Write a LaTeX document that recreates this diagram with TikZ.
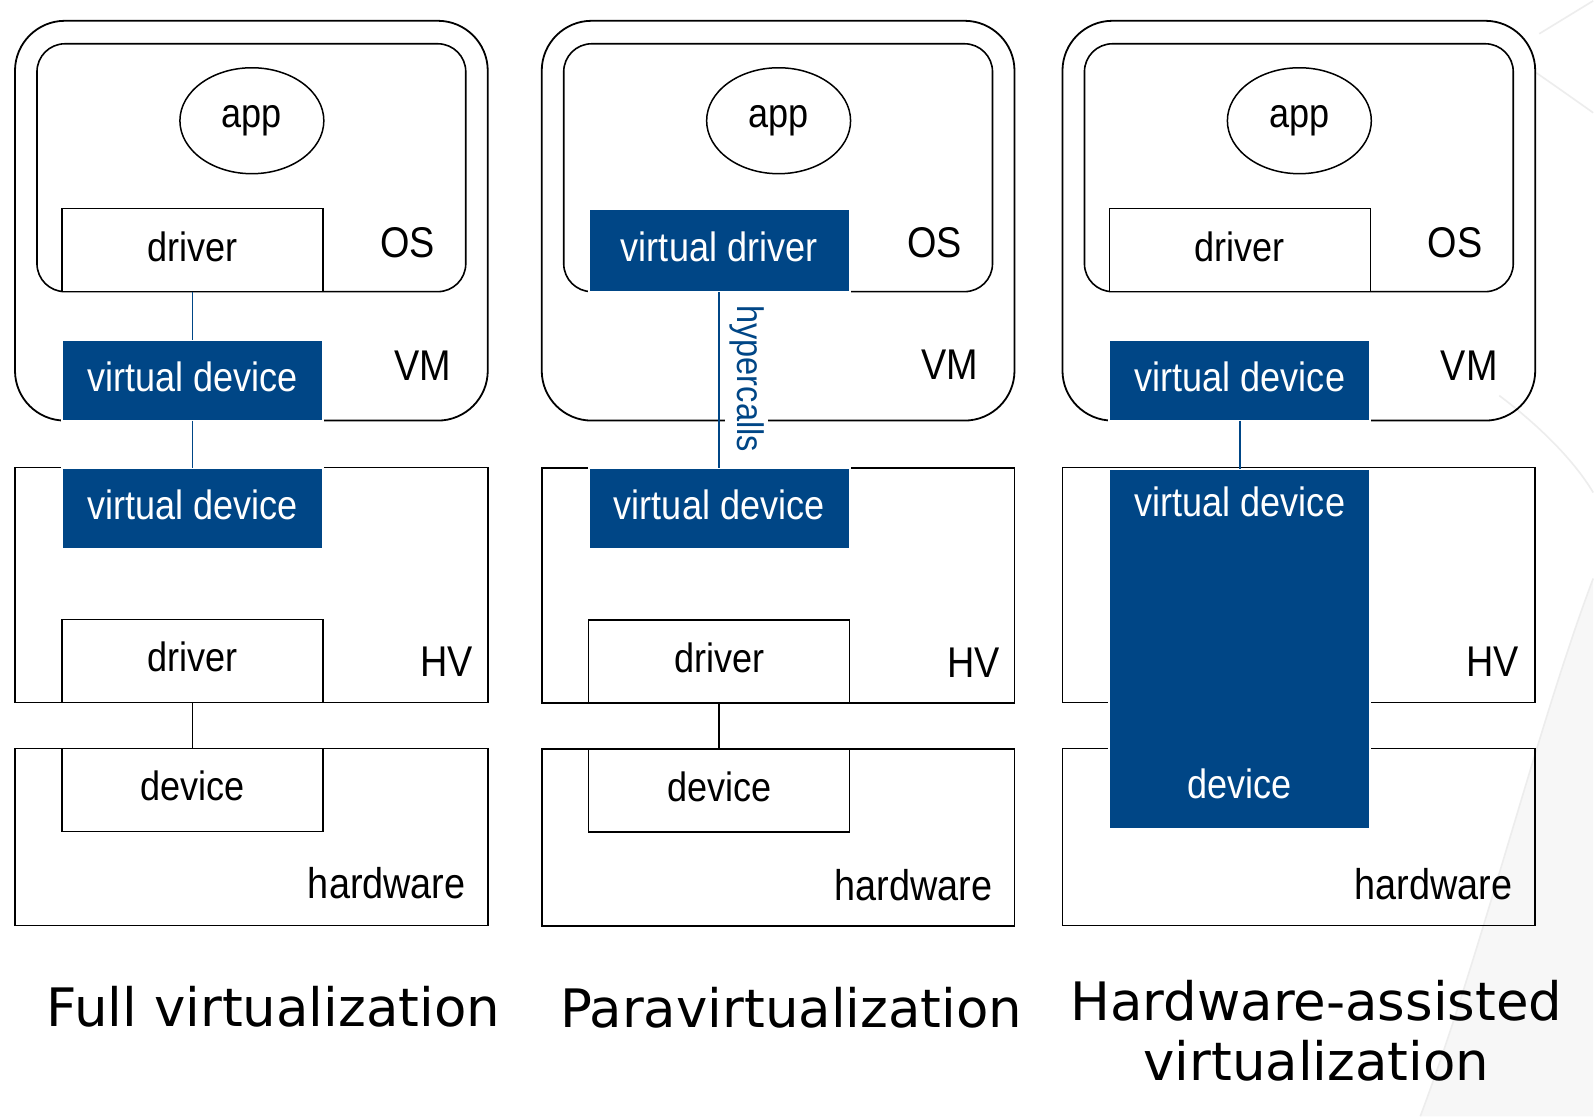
\documentclass[tikz,border=0pt]{standalone}
\usepackage{fontspec}
\setmainfont{Liberation Sans}
\newfontfamily\boxfont[FakeStretch=0.88]{Liberation Sans}
\newfontfamily\titlefont{DejaVu Sans}
\usetikzlibrary{positioning,shapes.geometric}
\definecolor{vblue}{RGB}{0,70,134}

\begin{document}
\begin{tikzpicture}[
  x=0.5pt, y=-0.5pt,
  every node/.style={inner sep=0pt, outer sep=0pt},
  txtfont/.style={font=\boxfont\fontsize{20.5}{24}\selectfont},
  txt/.style={txtfont, text height=16pt, text depth=5pt},
  lay/.style={font=\boxfont\fontsize{21.5}{25}\selectfont},
  vmbox/.style={draw, line width=0.9pt, rounded corners=25pt,
                minimum width=236.5pt, minimum height=200pt},
  osbox/.style={draw, line width=0.8pt, rounded corners=14pt,
                minimum width=214.5pt, minimum height=124pt},
  appnode/.style={ellipse, draw, line width=0.75pt, minimum width=72pt,
                  minimum height=53pt, txtfont},
  drvbox/.style={draw, fill=white, line width=0.75pt, minimum width=130.5pt,
                 minimum height=41.5pt, txt},
  vdevbox/.style={fill=vblue, draw=white, line width=1pt, text=white,
                  minimum width=130.5pt, minimum height=40.5pt, txt},
  layerbox/.style={draw, line width=0.8pt, minimum width=236.5pt},
  vlink/.style={draw=vblue, line width=0.75pt},
  hwlink/.style={draw, line width=0.75pt},
  hyplbl/.style={rotate=-90, fill=white, inner sep=2pt, text=vblue,
                 font=\boxfont\fontsize{18.5}{22}\selectfont},
  captext/.style={font=\titlefont\fontsize{26.5}{30}\selectfont, align=center}
]

%% Page and faint background
\fill[white] (0,0) rectangle (1594,1116);
\fill[black!3] (1421,1116) .. controls (1480,960) and (1540,720) .. (1594,578)
      -- (1594,1116) -- cycle;
\draw[black!7, line width=0.8pt] (1540,33) -- (1594,0);
\draw[black!7, line width=0.8pt] (1537,72) .. controls (1560,88) .. (1594,112);
\draw[black!7, line width=0.8pt] (1500,395) .. controls (1540,425) and (1575,460) .. (1594,492);
\draw[black!7, line width=0.8pt] (1421,1116) .. controls (1480,960) and (1540,720) .. (1594,578);

%% Full virtualization
\node[vmbox]   (vm1)    at (251.5,220)   {};
\node[osbox]   (os1)    at (251.5,167)   {};
\node[appnode] (app1)   at (252,120)     {app};
\node[drvbox]  (gdrv1)  at (192.5,249.5) {driver};
\node[lay]     (oslbl1) at (408,242)     {OS};
\node[vdevbox] (gvdev1) at (192.5,379.5) {virtual device};
\node[lay]     (vmlbl1) at (423,365)     {VM};

\node[layerbox, minimum height=117.5pt] (hv1) at (251.5,584.5) {};
\node[vdevbox] (hvdev1) at (192.5,507.5) {virtual device};
\node[drvbox]  (hdrv1)  at (192.5,660.5) {driver};
\node[lay]     (hvlbl1) at (447,661)     {HV};

\node[layerbox, minimum height=88.5pt] (hw1) at (251.5,836.5) {};
\node[drvbox]  (dev1)   at (192.5,789.5) {device};
\node[lay]     (hwlbl1) at (387,883)     {hardware};

\draw[vlink]  (gdrv1)  -- (gvdev1);
\draw[vlink]  (gvdev1) -- (hvdev1);
\draw[hwlink] (hdrv1)  -- (dev1);

%% Paravirtualization
\node[vmbox]   (vm2)    at (778.5,220)   {};
\node[osbox]   (os2)    at (778.5,167)   {};
\node[appnode] (app2)   at (779,120)     {app};
\node[vdevbox, minimum height=41.5pt] (vdrv2) at (719.5,250) {virtual driver};
\node[lay]     (oslbl2) at (935,242)     {OS};
\node[lay]     (vmlbl2) at (950,364)     {VM};

\node[layerbox, minimum height=117.5pt] (hv2) at (778.5,585) {};
\node[vdevbox] (hvdev2) at (719.5,508)   {virtual device};
\node[drvbox]  (hdrv2)  at (719.5,661)   {driver};
\node[lay]     (hvlbl2) at (974,662)     {HV};

\node[layerbox, minimum height=88.5pt] (hw2) at (778.5,837) {};
\node[drvbox]  (dev2)   at (719.5,790)   {device};
\node[lay]     (hwlbl2) at (914,885)     {hardware};

\draw[vlink] (vdrv2) -- (hvdev2);
\node[hyplbl]  (hyp2)   at (747,378)     {hypercalls};
\draw[hwlink] (hdrv2) -- (dev2);

%% Hardware-assisted virtualization
\node[vmbox]   (vm3)    at (1299.5,220)   {};
\node[osbox]   (os3)    at (1299.5,167)   {};
\node[appnode] (app3)   at (1300,120)     {app};
\node[drvbox]  (gdrv3)  at (1240.5,249.5) {driver};
\node[lay]     (oslbl3) at (1456,242)     {OS};
\node[vdevbox] (gvdev3) at (1240.5,379.5) {virtual device};
\node[lay]     (vmlbl3) at (1470,365)     {VM};

\node[layerbox, minimum height=117.5pt] (hv3) at (1299.5,584.5) {};
\node[lay]     (hvlbl3) at (1493,661)     {HV};
\node[layerbox, minimum height=88.5pt]  (hw3) at (1299.5,836.5) {};
\node[lay]     (hwlbl3) at (1434,884)     {hardware};

\node[vdevbox, minimum height=180.5pt] (bigdev3) at (1240.5,648.5) {};
\node[txt, text=white] (bigtop3) at (1240.5,505) {virtual device};
\node[txt, text=white] (bigbot3) at (1240.5,787) {device};

\draw[vlink] (gvdev3) -- (bigdev3);

%% Captions
\node[captext, anchor=base] (cap1) at (273.5,1026) {Full virtualization};
\node[captext, anchor=base] (cap2) at (791.5,1027) {Paravirtualization};
\node[captext] (cap3) at (1317,1030) {Hardware-assisted\\virtualization};

\end{tikzpicture}
\end{document}
